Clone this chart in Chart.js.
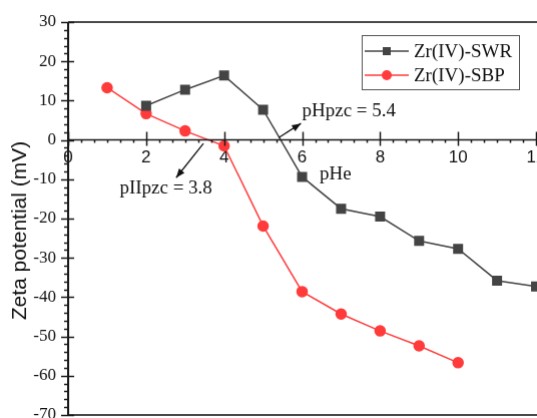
<!DOCTYPE html>
<html>
<head>
<meta charset="utf-8">
<script src="https://cdn.jsdelivr.net/npm/chart.js@4.4.1/dist/chart.umd.min.js"></script>
<style>
    html, body { margin: 0; padding: 0; background: #fff; overflow: hidden; }
    #wrap { width: 537px; height: 418px; position: relative; }
</style>
</head>
<body>
<div id="wrap"><canvas id="zeta"></canvas></div>
<script>
// pH values and zeta potentials (mV)
const phSWR = [2, 3, 4, 5, 6, 7, 8, 9, 10, 11, 12];
const zetaSWR = [8.7, 12.8, 16.4, 7.7, -9.4, -17.5, -19.5, -25.7, -27.7, -35.8, -37.3];
const phSBP = [1, 2, 3, 4, 5, 6, 7, 8, 9, 10];
const zetaSBP = [13.3, 6.7, 2.3, -1.5, -21.9, -38.6, -44.3, -48.6, -52.4, -56.7];

const seriesNames = ['Zr(IV)-SWR', 'Zr(IV)-SBP'];
const xTicks = [0, 2, 4, 6, 8, 10, 12];
const yTicks = [-70, -60, -50, -40, -30, -20, -10, 0, 10, 20, 30];

const AXIS = '#1a1a1a';
const GRAY = '#444444';
const RED = '#ff3b3b';
const SERIF = '"Liberation Serif", "Times New Roman", serif';
const SANS = '"Liberation Sans", Arial, sans-serif';

// text notes in data units: [text, x, y]
const notes = [
    ['pHpzc = 5.4', 6.0, 7.3],
    ['pIIpzc = 3.8', 1.32, -12.4],
    ['pHe', 6.45, -8.8]
];
// arrows in data units: [fromX, fromY, toX, toY]
const arrows = [
    [5.4, 0.6, 5.97, 4.2],
    [3.47, -0.9, 2.77, -9.6]
];

function arrowHead(ctx, x1, y1, x2, y2) {
    const a = Math.atan2(y2 - y1, x2 - x1);
    const len = 9, w = 3.5;
    ctx.beginPath();
    ctx.moveTo(x2, y2);
    ctx.lineTo(x2 - len * Math.cos(a) + w * Math.sin(a), y2 - len * Math.sin(a) - w * Math.cos(a));
    ctx.lineTo(x2 - len * Math.cos(a) - w * Math.sin(a), y2 - len * Math.sin(a) + w * Math.cos(a));
    ctx.closePath();
    ctx.fill();
}

const decorations = {
    id: 'decorations',
    afterDraw(chart) {
        const { ctx, chartArea: area, scales: { x, y } } = chart;
        const x0 = area.left;
        const yZero = y.getPixelForValue(0);
        ctx.save();

        // frame top and bottom
        ctx.strokeStyle = '#4a4a4a';
        ctx.lineWidth = 2;
        ctx.beginPath();
        ctx.moveTo(x0, area.top); ctx.lineTo(area.right, area.top);
        ctx.moveTo(x0, area.bottom); ctx.lineTo(area.right, area.bottom);
        ctx.stroke();

        // left axis and zero line
        ctx.strokeStyle = AXIS;
        ctx.lineWidth = 2;
        ctx.beginPath();
        ctx.moveTo(x0, area.top); ctx.lineTo(x0, area.bottom);
        ctx.stroke();
        ctx.lineWidth = 1.5;
        ctx.beginPath();
        ctx.moveTo(x0, yZero); ctx.lineTo(area.right, yZero);
        ctx.stroke();

        // y ticks: major crossing, minor every 2 outside
        ctx.lineWidth = 1.5;
        ctx.beginPath();
        for (let v = -70; v <= 30; v += 2) {
            const py = Math.round(y.getPixelForValue(v)) + 0.5;
            if (v % 10 === 0) { ctx.moveTo(x0 - 7, py); ctx.lineTo(x0 + 6, py); }
            else { ctx.moveTo(x0 - 4, py); ctx.lineTo(x0, py); }
        }
        // x ticks on the zero line: major crossing, minor every 1/3 below
        for (let i = 0; i <= 36; i++) {
            const px = Math.round(x.getPixelForValue(i / 3)) + 0.5;
            if (i % 6 === 0) { ctx.moveTo(px, yZero - 8); ctx.lineTo(px, yZero + 6); }
            else { ctx.moveTo(px, yZero); ctx.lineTo(px, yZero + 3); }
        }
        ctx.stroke();

        // annotations
        ctx.fillStyle = '#111';
        ctx.font = '19px ' + SERIF;
        ctx.textBaseline = 'middle';
        ctx.textAlign = 'left';
        notes.forEach(([t, nx, ny]) => ctx.fillText(t, x.getPixelForValue(nx), y.getPixelForValue(ny)));

        ctx.strokeStyle = '#111';
        ctx.lineWidth = 1.3;
        arrows.forEach(([ax, ay, bx, by]) => {
            const p1 = [x.getPixelForValue(ax), y.getPixelForValue(ay)];
            const p2 = [x.getPixelForValue(bx), y.getPixelForValue(by)];
            ctx.beginPath();
            ctx.moveTo(p1[0], p1[1]); ctx.lineTo(p2[0], p2[1]);
            ctx.stroke();
            arrowHead(ctx, p1[0], p1[1], p2[0], p2[1]);
        });

        // legend box
        const lx = 361, ly = 35, lw = 157, lh = 54;
        ctx.fillStyle = '#fff';
        ctx.fillRect(lx, ly, lw, lh);
        ctx.strokeStyle = '#555';
        ctx.lineWidth = 1;
        ctx.strokeRect(lx + 0.5, ly + 0.5, lw, lh);
        chart.data.datasets.forEach((ds, i) => {
            const ry = ly + 16 + i * 24;
            ctx.strokeStyle = ds.borderColor;
            ctx.lineWidth = 1.5;
            ctx.beginPath();
            ctx.moveTo(lx + 3, ry); ctx.lineTo(lx + 47, ry);
            ctx.stroke();
            ctx.fillStyle = ds.pointBackgroundColor;
            ctx.beginPath();
            if (ds.pointStyle === 'rect') ctx.rect(lx + 21, ry - 4, 8, 8);
            else ctx.arc(lx + 25, ry, 5, 0, Math.PI * 2);
            ctx.fill();
            ctx.fillStyle = '#111';
            ctx.font = '19px ' + SERIF;
            ctx.textAlign = 'left';
            ctx.fillText(ds.label, lx + 52, ry + 1);
        });

        // y axis title
        ctx.translate(20, 230);
        ctx.rotate(-Math.PI / 2);
        ctx.fillStyle = '#111';
        ctx.font = '21px ' + SANS;
        ctx.textAlign = 'center';
        ctx.fillText('Zeta potential (mV)', 0, 0);
        ctx.restore();
    }
};

const chart = new Chart(document.getElementById('zeta'), {
    type: 'line',
    data: {
        datasets: [
            {
                label: seriesNames[0],
                data: phSWR.map((p, i) => ({ x: p, y: zetaSWR[i] })),
                borderColor: GRAY,
                backgroundColor: GRAY,
                pointBackgroundColor: GRAY,
                pointBorderColor: GRAY,
                pointStyle: 'rect',
                pointRadius: 6,
                borderWidth: 1.5,
                tension: 0
            },
            {
                label: seriesNames[1],
                data: phSBP.map((p, i) => ({ x: p, y: zetaSBP[i] })),
                borderColor: RED,
                backgroundColor: RED,
                pointBackgroundColor: RED,
                pointBorderColor: RED,
                pointStyle: 'circle',
                pointRadius: 5,
                borderWidth: 1.5,
                tension: 0
            }
        ]
    },
    options: {
        responsive: true,
        maintainAspectRatio: false,
        animation: false,
        layout: { padding: { top: 22, bottom: 0, left: 0, right: 0 } },
        plugins: { legend: { display: false }, tooltip: { enabled: false } },
        scales: {
            x: {
                type: 'linear',
                position: { y: 0 },
                min: 0,
                max: 12.05,
                afterBuildTicks: (scale) => { scale.ticks = xTicks.map(v => ({ value: v })); },
                // the axis sits on y = 0, so it takes no room at the edges
                afterFit: (scale) => {
                    scale.height = 0;
                    scale.paddingLeft = 0;
                    scale.paddingRight = 0;
                },
                ticks: {
                    includeBounds: false,
                    autoSkip: false,
                    maxRotation: 0,
                    padding: 8,
                    color: '#111',
                    font: { family: SANS, size: 17 }
                },
                grid: { display: false, drawTicks: false },
                border: { display: false }
            },
            y: {
                type: 'linear',
                min: -70,
                max: 30,
                afterBuildTicks: (scale) => { scale.ticks = yTicks.map(v => ({ value: v })); },
                afterFit: (scale) => {
                    scale.width = 68;
                    scale.paddingTop = 0;
                    scale.paddingBottom = 0;
                },
                ticks: {
                    padding: 12,
                    color: '#111',
                    font: { family: SERIF, size: 17 }
                },
                grid: { display: false, drawTicks: false },
                border: { display: false }
            }
        }
    },
    plugins: [decorations]
});

// the frame runs off the right and bottom edges: grow the box by the
// marker overflow Chart.js keeps free, the window crops the rest
const wrap = document.getElementById('wrap');
const padRight = 537 - chart.chartArea.right;
const padBottom = 414 - chart.chartArea.bottom;
wrap.style.width = (537 + padRight) + 'px';
wrap.style.height = (418 + padBottom) + 'px';
chart.resize();
</script>
</body>
</html>
